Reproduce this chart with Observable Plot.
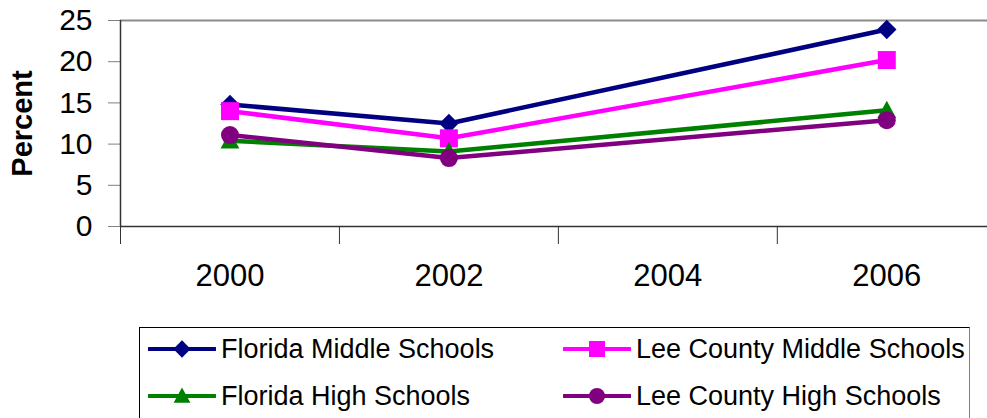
<!DOCTYPE html>
<html>
<head>
<meta charset="utf-8">
<script src="https://cdn.jsdelivr.net/npm/d3@7"></script>
<script src="https://cdn.jsdelivr.net/npm/@observablehq/plot@0.6"></script>
<style>
  html, body { margin: 0; padding: 0; background: #fff; }
  body { width: 987px; height: 418px; overflow: hidden; position: relative; font-family: "Liberation Sans", Arial, sans-serif; }
  #chart { position: absolute; left: 0; top: 0; }
  #legend { position: absolute; left: 139px; top: 327px; width: 831px; height: 120px; border: 1px solid #000; border-right-color: #808080; box-sizing: border-box; }
  .entry { position: absolute; display: flex; align-items: center; height: 30px; font-size: 27px; color: #000; white-space: nowrap; }
  .entry svg { margin-right: 5px; }
</style>
</head>
<body>
<div id="chart"></div>
<div id="legend"></div>
<script>
// ---- data ----
const years = [2000, 2002, 2006];
const seriesNames = ["Florida Middle Schools", "Lee County Middle Schools", "Florida High Schools", "Lee County High Schools"];
const floridaMiddle = [14.8, 12.5, 23.9];
const leeMiddle = [14.0, 10.7, 20.2];
const floridaHigh = [10.4, 9.1, 14.1];
const leeHigh = [11.1, 8.3, 12.9];
const yTicks = [0, 5, 10, 15, 20, 25];
const xTickLabels = [2000, 2002, 2004, 2006];
const xBandEdges = [1999, 2001, 2003, 2005];

const seriesValues = [floridaMiddle, leeMiddle, floridaHigh, leeHigh];
const colors = ["#000080", "#FF00FF", "#008000", "#800080"];

// custom marker symbols (size = pi r^2)
const diamond = { draw(ctx, size) { const r = Math.sqrt(size / Math.PI) * 1.08; ctx.moveTo(0, -r); ctx.lineTo(r, 0); ctx.lineTo(0, r); ctx.lineTo(-r, 0); ctx.closePath(); } };
const square = { draw(ctx, size) { const r = Math.sqrt(size / Math.PI); ctx.rect(-r, -r, 2 * r, 2 * r); } };
const triangle = { draw(ctx, size) { const r = Math.sqrt(size / Math.PI); ctx.moveTo(0, -r * 1.05); ctx.lineTo(r * 1.05, r * 0.85); ctx.lineTo(-r * 1.05, r * 0.85); ctx.closePath(); } };
const circle = { draw(ctx, size) { const r = Math.sqrt(size / Math.PI); ctx.moveTo(r, 0); ctx.arc(0, 0, r, 0, 2 * Math.PI); } };
const symbols = [diamond, square, triangle, circle];

const rows = [];
seriesNames.forEach((name, i) => years.forEach((yr, j) => rows.push({ series: name, year: yr, value: seriesValues[i][j] })));

const marks = [
  Plot.ruleY([25], { stroke: "#8c8c8c", strokeWidth: 2 }),
  Plot.axisX(xBandEdges, { tickSize: 18, tickFormat: () => "", stroke: "#333", label: null }),
  Plot.axisX(xTickLabels, { tickSize: 0, tickPadding: 37, fontSize: 31, tickFormat: d => String(d), fill: "#000", label: null }),
  Plot.axisY(yTicks, { tickSize: 12, tickPadding: 16, fontSize: 30, stroke: "#808080", fill: "#000", label: null }),
  Plot.ruleX([1999], { y1: 0, y2: 25, stroke: "#333", strokeWidth: 1.5 }),
  Plot.ruleY([0], { stroke: "#333", strokeWidth: 1.5 }),
  Plot.text(["Percent"], { frameAnchor: "left", dx: -98, rotate: -90, fontSize: 29, fontWeight: "bold", fill: "#000", textAnchor: "middle", lineAnchor: "middle" })
];
seriesNames.forEach((name, i) => {
  const d = rows.filter(r => r.series === name);
  marks.push(Plot.line(d, { x: "year", y: "value", stroke: colors[i], strokeWidth: 4.5 }));
  marks.push(Plot.dot(d, { x: "year", y: "value", symbol: symbols[i], r: 9, fill: colors[i], stroke: "none" }));
});

const chart = Plot.plot({
  width: 987,
  height: 300,
  marginLeft: 120,
  marginRight: 0,
  marginTop: 20,
  marginBottom: 74,
  style: { fontFamily: "'Liberation Sans', Arial, sans-serif", background: "white", overflow: "visible" },
  x: { domain: [1999, 2006.92], axis: null },
  y: { domain: [0, 25], axis: null },
  marks
});
document.getElementById("chart").appendChild(chart);

// ---- legend ----
const legend = document.getElementById("legend");
const pos = [
  { left: 8, top: 6 },   // Florida Middle
  { left: 423, top: 6 }, // Lee Middle
  { left: 8, top: 53 },  // Florida High
  { left: 423, top: 53 } // Lee High
];
seriesNames.forEach((name, i) => {
  const e = document.createElement("div");
  e.className = "entry";
  e.style.left = pos[i].left + "px";
  e.style.top = pos[i].top + "px";
  const ns = "http://www.w3.org/2000/svg";
  const svg = document.createElementNS(ns, "svg");
  svg.setAttribute("width", 68); svg.setAttribute("height", 24);
  const ln = document.createElementNS(ns, "line");
  ln.setAttribute("x1", 1); ln.setAttribute("x2", 67); ln.setAttribute("y1", 12); ln.setAttribute("y2", 12);
  ln.setAttribute("stroke", colors[i]); ln.setAttribute("stroke-width", 4); ln.setAttribute("stroke-linecap", "round");
  svg.appendChild(ln);
  const p = d3.path();
  symbols[i].draw(p, Math.PI * 8 * 8);
  const m = document.createElementNS(ns, "path");
  m.setAttribute("d", p.toString()); m.setAttribute("fill", colors[i]);
  m.setAttribute("transform", "translate(34,12)");
  svg.appendChild(m);
  e.appendChild(svg);
  const t = document.createElement("span");
  t.textContent = name;
  e.appendChild(t);
  legend.appendChild(e);
});
</script>
</body>
</html>
